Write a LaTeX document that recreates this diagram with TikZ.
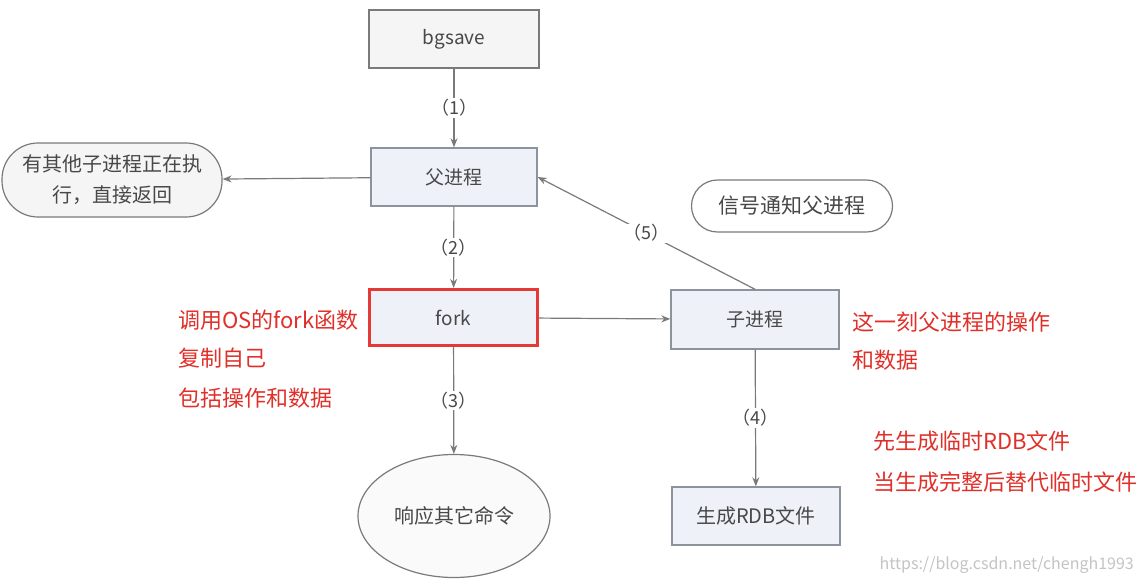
\documentclass[tikz,border=0pt]{standalone}
\usepackage{fontspec}
\setmainfont{Noto Sans CJK SC}
\usetikzlibrary{shapes.geometric,arrows.meta}
\definecolor{txt}{HTML}{484848}
\definecolor{edge}{HTML}{7A7A7A}
\definecolor{boxln}{HTML}{8A939E}
\definecolor{boxfill}{HTML}{EEF2F8}
\definecolor{greyfill}{HTML}{F5F5F5}
\definecolor{redtxt}{HTML}{E0302A}
\definecolor{redbox}{HTML}{E53935}
\definecolor{wm}{HTML}{C4C4C4}
\tikzset{
  procbox/.style={draw=boxln, line width=1.4pt, fill=boxfill, text=txt, inner sep=0pt,
    font=\fontsize{19}{23}\selectfont},
  pill/.style={draw=edge, line width=1.2pt, fill=greyfill, text=txt, inner sep=0pt,
    font=\fontsize{20}{31}\selectfont, align=center},
  arr/.style={draw=edge, line width=1.2pt, -{Stealth[length=9pt,width=7pt]}},
  lbl/.style={fill=white, text=txt, inner sep=1pt, font=\fontsize{18}{20}\selectfont},
  redlabel/.style={text=redtxt, anchor=west, inner sep=0pt, font=\fontsize{22}{26}\selectfont}
}
\begin{document}
\begin{tikzpicture}[x=1pt,y=-1pt]
\useasboundingbox[fill=white] (0,0) rectangle (1143,584);

\node[procbox, fill=greyfill, draw=edge, minimum width=170pt, minimum height=58pt] (bgsave) at (454,39) {bgsave};
\node[procbox, minimum width=166pt, minimum height=58pt] (parent) at (454,177) {父进程};
\node[procbox, draw=redbox, line width=3.2pt, minimum width=168pt, minimum height=56pt] (fork) at (453.5,317.5) {fork};
\node[procbox, minimum width=168pt, minimum height=59pt] (child) at (755,319.5) {子进程};
\node[procbox, font=\fontsize{20}{24}\selectfont, minimum width=168pt, minimum height=58pt] (rdb) at (756,516) {生成RDB文件};

\node[pill, rounded corners=36pt, minimum width=220pt, minimum height=74pt] (busy) at (112,180) {有其他子进程正在执\\行，直接返回};
\node[pill, fill=white, font=\fontsize{21}{25}\selectfont, rounded corners=26pt, minimum width=201pt, minimum height=52pt] (signal) at (792,206) {信号通知父进程};
\node[pill, ellipse, fill=greyfill!80!black!8!white, minimum width=192pt, minimum height=123pt] (resp) at (454,516) {响应其它命令};

\draw[arr] (bgsave) -- node[lbl] (l1) {（1）} (parent);
\draw[arr] (parent) -- (busy);
\draw[arr] (parent) -- node[lbl] (l2) {（2）} (fork);
\draw[arr] (fork) -- (child);
\draw[arr] (fork) -- node[lbl] (l3) {（3）} (resp);
\draw[arr] (child) -- node[lbl] (l4) {（4）} (rdb);
\draw[arr] (child.north) -- node[lbl] (l5) {（5）} (parent.east);

\node[redlabel] (r1) at (178,320) {调用OS的fork函数};
\node[redlabel] (r2) at (178,358) {复制自己};
\node[redlabel] (r3) at (178,398) {包括操作和数据};
\node[redlabel] (r4) at (852,322) {这一刻父进程的操作};
\node[redlabel] (r5) at (852,360) {和数据};
\node[redlabel] (r6) at (873,441) {先生成临时RDB文件};
\node[redlabel] (r7) at (873,482) {当生成完整后替代临时文件};

\node[text=wm, anchor=east, inner sep=0pt, font=\fontsize{16}{18}\selectfont] (wmark) at (1134,565) {https://blog.csdn.net/chengh1993};
\end{tikzpicture}
\end{document}
